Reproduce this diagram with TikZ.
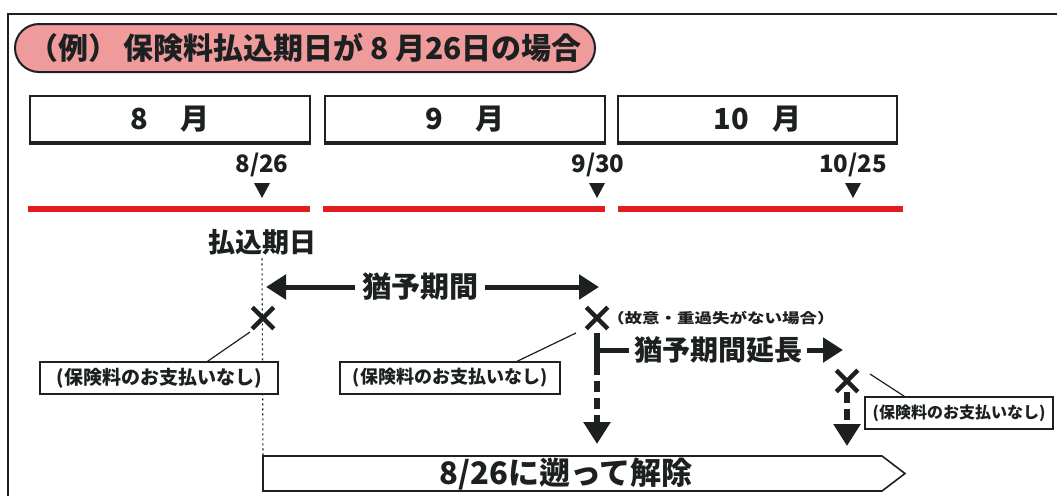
\documentclass[tikz,border=0pt]{standalone}
\usepackage{fontspec}
\setmainfont{Noto Sans CJK JP}
\usetikzlibrary{arrows.meta,shapes.misc}
\definecolor{pill}{RGB}{240,155,155}
\definecolor{barred}{RGB}{226,28,28}
\definecolor{ink}{RGB}{28,32,32}
\begin{document}
\begin{tikzpicture}[x=1pt,y=-1pt,
  every node/.style={text=ink},
  fs/.style={font=\bfseries\fontsize{#1}{#1}\selectfont},
  monthbox/.style={draw=ink, line width=2.2pt, fill=white, minimum height=46pt, inner sep=0pt, fs=29},
  datelbl/.style={fs=24, inner sep=0pt},
  redbar/.style={barred, line width=6pt},
  tri/.style={fill=ink},
  xmark/.style={cross out, draw=ink, line width=4.5pt, minimum size=17pt, inner sep=0pt},
  callout/.style={draw=ink, line width=1.5pt, fill=white, minimum height=32pt, inner sep=2pt},
  leader/.style={draw=ink, line width=1.2pt},
  fat/.style={draw=ink, line width=5pt},
  fathead/.style={-{Triangle[length=20pt,width=24pt]}},
  dashdown/.style={draw=ink, line width=6pt, dash pattern=on 11pt off 6pt, -{Triangle[length=22pt,width=26pt]}},
  dotline/.style={draw=ink, line width=1.1pt, dash pattern=on 2pt off 3pt}
]
\useasboundingbox (0,0) rectangle (1057,496);
\fill[white] (0,0) rectangle (1057,496);

% outer frame
\draw[ink, line width=1.8pt] (8,496) -- (8,14) -- (1057,14);

% title pill
\node[draw=ink, line width=2pt, fill=pill, rounded corners=24pt, minimum width=580pt, minimum height=48pt, fs=30] (title) at (305,48) {（例）\,保険料払込期日が 8 月26日の場合};

% month boxes
\node[monthbox, minimum width=280pt] (m8) at (170,119) {8\hspace{1.1em}月};
\node[monthbox, minimum width=280pt] (m9) at (465,119) {9\hspace{1.1em}月};
\node[monthbox, minimum width=279pt] (m10) at (757.5,119) {10\hspace{0.8em}月};
\draw[ink, line width=3pt] (m8.south west) -- (m8.south east);
\draw[ink, line width=3pt] (m9.south west) -- (m9.south east);
\draw[ink, line width=3pt] (m10.south west) -- (m10.south east);

% dates and triangles
\node[datelbl] (d826) at (262,165) {8/26};
\node[datelbl] (d930) at (598,165) {9/30};
\node[datelbl] (d1025) at (853,165) {10/25};
\fill[tri] (254,183) -- (270,183) -- (262,198) -- cycle;
\fill[tri] (589,183) -- (605,183) -- (597,198) -- cycle;
\fill[tri] (845,183) -- (861,183) -- (853,198) -- cycle;

% red bars
\draw[redbar] (28,209) -- (310,209);
\draw[redbar] (323,209) -- (605,209);
\draw[redbar] (618,209) -- (903,209);

% payment due date
\node[fs=27] (payday) at (262,242) {払込期日};
\coordinate (barL) at (263,456);
\draw[dotline] (payday.south) -- (barL);

% grace period arrow
\node[fs=29, inner sep=7pt] (grace) at (420,287) {猶予期間};
\coordinate (gL) at (266,287);
\coordinate (gR) at (599,287);
\draw[fat, fathead] (grace.west) -- (gL);
\draw[fat, fathead] (grace.east) -- (gR);

% x marks
\node[xmark] (x1) at (263,318) {};
\node[xmark] (x2) at (597,318) {};
\node[xmark] (x3) at (847,381) {};

% note
\node[anchor=west, inner sep=0pt, fs=14] (note) at (607,318) {\scalebox{1.25}[1]{（故意・重過失がない場合）}};

% callouts
\node[callout, minimum width=238pt, fs=19] (b1) at (159,378) {(保険料のお支払いなし)};
\node[callout, minimum width=220pt, fs=18] (b2) at (450,378) {(保険料のお支払いなし)};
\node[callout, minimum width=188pt, fs=16] (b3) at (959,413) {(保険料のお支払いなし)};
\coordinate (l1) at (250,332);
\coordinate (l2) at (576,333);
\coordinate (l3) at (870,374);
\draw[leader] (b1.19) -- (l1);
\draw[leader] (b2.14) -- (l2);
\draw[leader] (b3.163) -- (l3);

% extension arrow
\coordinate (tb1) at (597,333);
\coordinate (tb2) at (597,364);
\coordinate (tbm) at (597,350);
\draw[ink, line width=6pt] (tb1) -- (tb2);
\node[fs=28, inner sep=5pt] (ext) at (718,350) {猶予期間延長};
\draw[fat] (tbm) -- (ext.west);
\coordinate (eR) at (843,350);
\draw[fat, fathead] (ext.east) -- (eR);

% dashed down arrows
\coordinate (dn1) at (597,444);
\coordinate (dn2) at (847,446);
\draw[dashdown] (tb2) -- (dn1);
\draw[dashdown] (x3.south) -- (dn2);

% cancellation bar
\draw[ink, line width=1.6pt, fill=white] (263,456) -- (882,456) -- (905,473.5) -- (882,491) -- (263,491) -- cycle;
\node[fs=31, inner sep=0pt] (cancel) at (566,474) {8/26に遡って解除};
\end{tikzpicture}
\end{document}
